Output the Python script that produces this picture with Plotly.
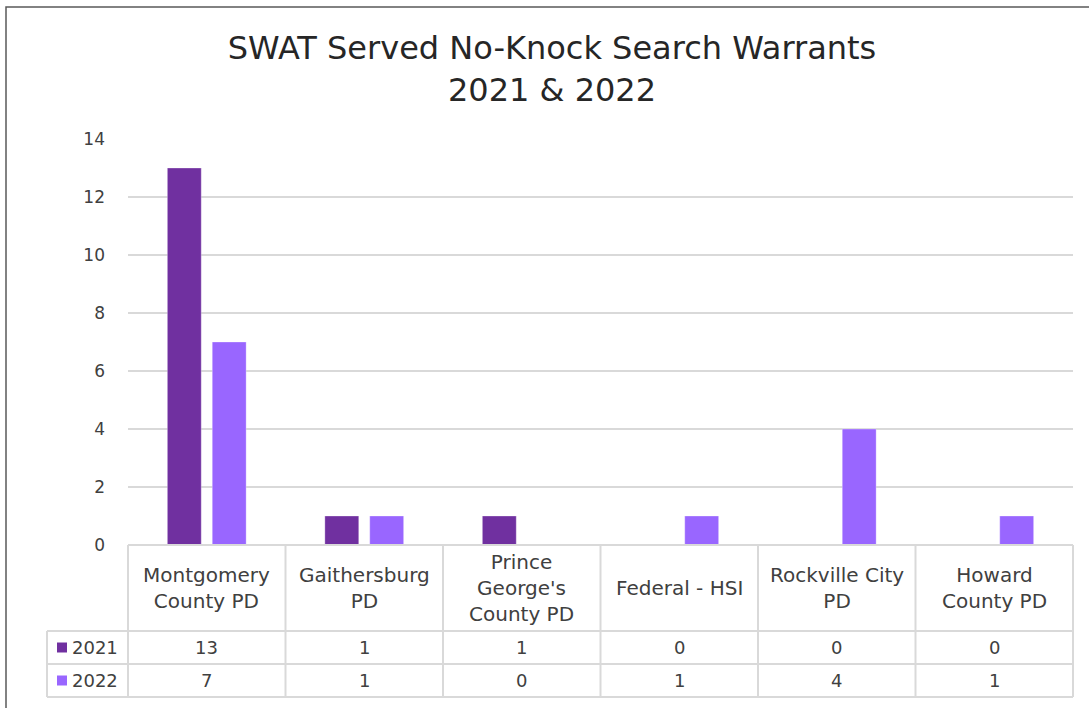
import plotly.graph_objects as go

categories = ["Montgomery County PD", "Gaithersburg PD", "Prince George's County PD",
              "Federal - HSI", "Rockville City PD", "Howard County PD"]
category_labels = ["Montgomery<br>County PD", "Gaithersburg<br>PD", "Prince<br>George's<br>County PD",
                   "Federal - HSI", "Rockville City<br>PD", "Howard<br>County PD"]
series_names = ["2021", "2022"]
values_2021 = [13, 1, 1, 0, 0, 0]
values_2022 = [7, 1, 0, 1, 4, 1]
y_ticks = [0, 2, 4, 6, 8, 10, 12, 14]

colors = {"2021": "#7030A0", "2022": "#9966FF"}
FONT = "DejaVu Sans"
TXT = "#404040"
GRID = "#D9D9D9"

W, H = 1089, 708
L, R, T, B = 128, 16, 139, 163
plot_w = W - L - R
plot_h = H - T - B

def py(pix):  # pixel y -> paper y
    return (H - B - pix) / plot_h

def px(pix):  # pixel x -> paper x
    return (pix - L) / plot_w

fig = go.Figure()
for name, vals in zip(series_names, [values_2021, values_2022]):
    fig.add_trace(go.Bar(
        x=categories, y=vals, name=name,
        marker=dict(color=colors[name], line=dict(color="rgba(255,255,255,0.5)", width=0.6)),
    ))

shapes = []
line = dict(color=GRID, width=2)
shapes.append(dict(type="line", xref="paper", yref="paper", x0=0, x1=1, y0=0, y1=0, line=line))
for yy in [631, 664, 697]:
    shapes.append(dict(type="line", xref="paper", yref="paper", x0=px(47), x1=1, y0=py(yy), y1=py(yy), line=line))
n = len(categories)
for i in range(n + 1):
    shapes.append(dict(type="line", xref="paper", yref="paper", x0=i / n, x1=i / n,
                       y0=0, y1=py(697), line=line))
shapes.append(dict(type="line", xref="paper", yref="paper", x0=px(47), x1=px(47),
                   y0=py(631), y1=py(697), line=line))
for name, yc in zip(series_names, [647.5, 680.5]):
    shapes.append(dict(type="rect", xref="paper", yref="paper",
                       x0=px(57), x1=px(67), y0=py(yc - 5), y1=py(yc + 5),
                       fillcolor=colors[name], line=dict(width=0)))
shapes.append(dict(type="rect", xref="paper", yref="paper",
                   x0=px(6), x1=px(1100), y0=py(720), y1=py(7),
                   line=dict(color="#595959", width=1.5), fillcolor="rgba(0,0,0,0)"))

annotations = []
for i, lab in enumerate(category_labels):
    annotations.append(dict(x=(i + 0.5) / n, y=py(588), xref="paper", yref="paper",
                            text=lab, showarrow=False, xanchor="center", yanchor="middle",
                            font=dict(family=FONT, size=20, color=TXT)))
for name, vals, yc in zip(series_names, [values_2021, values_2022], [647.5, 680.5]):
    annotations.append(dict(x=px(70), y=py(yc), xref="paper", yref="paper", text=name,
                            showarrow=False, xanchor="left", yanchor="middle",
                            font=dict(family=FONT, size=18, color=TXT)))
    for i, v in enumerate(vals):
        annotations.append(dict(x=(i + 0.5) / n, y=py(yc), xref="paper", yref="paper",
                                text=str(v), showarrow=False, xanchor="center", yanchor="middle",
                                font=dict(family=FONT, size=18, color=TXT)))

fig.update_layout(
    width=W, height=H,
    margin=dict(l=L, r=R, t=T, b=B),
    paper_bgcolor="white", plot_bgcolor="white",
    title=dict(text="SWAT Served No-Knock Search Warrants<br>2021 & 2022",
               x=552 / W, xanchor="center", y=1 - 59 / H, yanchor="middle",
               font=dict(family=FONT, size=32, color="#262626")),
    showlegend=False,
    barmode="group", bargap=0.43, bargroupgap=0.245,
    shapes=shapes, annotations=annotations,
    xaxis=dict(showticklabels=False, showgrid=False, zeroline=False, showline=False,
               range=[-0.5, n - 0.5]),
    yaxis=dict(range=[0, 14], tickvals=y_ticks, showgrid=True, gridcolor=GRID, gridwidth=2,
               zeroline=False, showline=False, ticklabelstandoff=22,
               tickfont=dict(family=FONT, size=17, color=TXT)),
)
fig.write_html("out.html", config={"displayModeBar": False},
               post_script="document.body.style.margin='0';")
